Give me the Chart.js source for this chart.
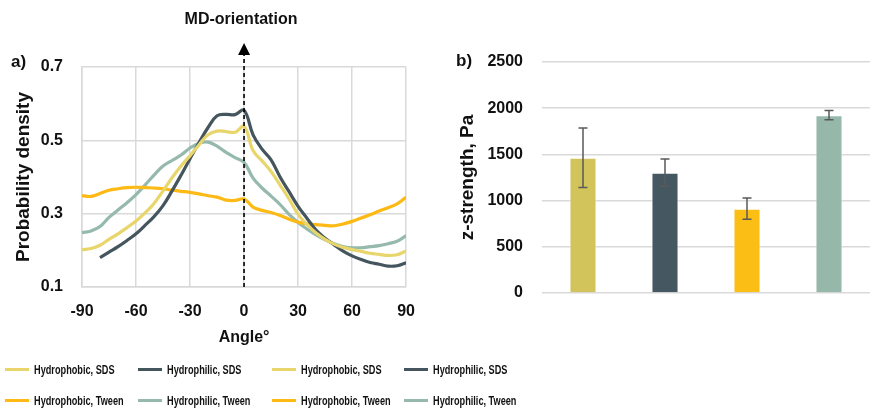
<!DOCTYPE html>
<html>
<head>
<meta charset="utf-8">
<script src="https://cdn.jsdelivr.net/npm/chart.js@4.4.1/dist/chart.umd.min.js"></script>
<style>
  body { margin: 0; width: 873px; height: 408px; background: #fff; position: relative; overflow: hidden;
         font-family: 'Liberation Sans', Arial, sans-serif; font-weight: bold; color: #111; }
  #cA { position: absolute; left: 0; top: 0; }
  #cB { position: absolute; left: 440px; top: 0; }
  .lbl { position: absolute; font-size: 17px; white-space: nowrap; }
  .leg { position: absolute; height: 20px; display: flex; align-items: center; white-space: nowrap; }
  .leg i { display: inline-block; width: 24px; height: 3px; margin-right: 5px; }
  .leg span { font-size: 13.5px; display: inline-block; transform: scaleX(0.68); transform-origin: left center; }
</style>
</head>
<body>
<canvas id="cA" width="430" height="360"></canvas>
<canvas id="cB" width="433" height="360"></canvas>
<div class="lbl" style="left:11px; top:52px;">a)</div>
<div class="lbl" style="left:456px; top:51px;">b)</div>
<div class="lbl" style="left:241px; top:10px; transform:translateX(-50%); font-size:16px;">MD-orientation</div>
<div id="legend"></div>
<script>
// angle distribution (a)
var angles = [-90, -85, -80, -75, -70, -65, -60, -55, -50, -45, -40, -35, -30, -25, -20, -15, -10, -5, 0,
              5, 10, 15, 20, 25, 30, 35, 40, 45, 50, 55, 60, 65, 70, 75, 80, 85, 90];
var phobicSDS = [0.202, 0.205, 0.214, 0.23, 0.245, 0.262, 0.28, 0.302, 0.328, 0.362, 0.398, 0.43, 0.458, 0.488, 0.515, 0.525, 0.524, 0.522, 0.538,
                 0.472, 0.444, 0.415, 0.378, 0.34, 0.298, 0.27, 0.247, 0.23, 0.217, 0.208, 0.202, 0.197, 0.192, 0.189, 0.186, 0.188, 0.198];
var philicSDS = [null, null, 0.18, 0.195, 0.21, 0.227, 0.245, 0.268, 0.292, 0.322, 0.362, 0.405, 0.45, 0.494, 0.535, 0.567, 0.571, 0.57, 0.582,
                 0.515, 0.476, 0.447, 0.40, 0.36, 0.32, 0.287, 0.255, 0.233, 0.215, 0.198, 0.185, 0.175, 0.167, 0.162, 0.157, 0.158, 0.166];
var phobicTween = [0.349, 0.347, 0.355, 0.364, 0.368, 0.371, 0.372, 0.371, 0.37, 0.368, 0.364, 0.361, 0.358, 0.354, 0.349, 0.345, 0.337, 0.336, 0.34,
                   0.318, 0.309, 0.303, 0.295, 0.285, 0.277, 0.272, 0.27, 0.268, 0.267, 0.272, 0.279, 0.288, 0.297, 0.307, 0.316, 0.327, 0.345];
var philicTween = [0.248, 0.253, 0.265, 0.29, 0.31, 0.33, 0.352, 0.378, 0.405, 0.43, 0.445, 0.46, 0.479, 0.492, 0.495, 0.484, 0.467, 0.453, 0.44,
                   0.397, 0.37, 0.348, 0.325, 0.298, 0.276, 0.258, 0.242, 0.229, 0.218, 0.21, 0.207, 0.207, 0.21, 0.213, 0.218, 0.225, 0.24];

// z-strength (b)
var groups = ['Hydrophobic, SDS', 'Hydrophilic, SDS', 'Hydrophobic, Tween', 'Hydrophilic, Tween'];
var strength = [1463, 1302, 913, 1924];
var strengthErr = [322, 147, 116, 50];

var seriesNames = ['Hydrophobic, SDS', 'Hydrophilic, SDS', 'Hydrophobic, Tween', 'Hydrophilic, Tween'];
var lineColors = ['#E8D66C', '#44555E', '#FDB914', '#95B9AC'];
var barColors = ['#D3C35B', '#455760', '#FBBE14', '#95B8AB'];

var gridColor = '#D9D9D9';
var textColor = '#111';
Chart.defaults.font.family = "'Liberation Sans', Arial, sans-serif";
Chart.defaults.font.weight = 'bold';
Chart.defaults.color = textColor;

var arrowPlugin = {
    id: 'mdArrow',
    afterDatasetsDraw: function (chart) {
        var ctx = chart.ctx, x = chart.scales.x.getPixelForValue(0);
        var bottom = chart.chartArea.bottom;
        ctx.save();
        ctx.strokeStyle = '#000';
        ctx.lineWidth = 1.6;
        ctx.setLineDash([4, 3]);
        ctx.beginPath();
        ctx.moveTo(x, bottom);
        ctx.lineTo(x, 54);
        ctx.stroke();
        ctx.setLineDash([]);
        ctx.fillStyle = '#000';
        ctx.beginPath();
        ctx.moveTo(x, 43);
        ctx.lineTo(x - 6, 55);
        ctx.lineTo(x + 6, 55);
        ctx.closePath();
        ctx.fill();
        ctx.restore();
    }
};

var errorPlugin = {
    id: 'errBars',
    afterDatasetsDraw: function (chart) {
        var ctx = chart.ctx, yScale = chart.scales.y;
        var meta = chart.getDatasetMeta(0);
        ctx.save();
        ctx.strokeStyle = '#595959';
        ctx.lineWidth = 1.5;
        meta.data.forEach(function (bar, i) {
            var top = yScale.getPixelForValue(strength[i] + strengthErr[i]);
            var bot = yScale.getPixelForValue(strength[i] - strengthErr[i]);
            ctx.beginPath();
            ctx.moveTo(bar.x, top); ctx.lineTo(bar.x, bot);
            ctx.moveTo(bar.x - 4.5, top); ctx.lineTo(bar.x + 4.5, top);
            ctx.moveTo(bar.x - 4.5, bot); ctx.lineTo(bar.x + 4.5, bot);
            ctx.stroke();
        });
        ctx.restore();
    }
};

function lineSet(label, data, color) {
    return {
        label: label,
        data: data.map(function (v, i) { return {x: angles[i], y: v}; }),
        borderColor: color, backgroundColor: color,
        borderWidth: 3.2, pointRadius: 0, tension: 0.4, fill: false
    };
}

new Chart(document.getElementById('cA').getContext('2d'), {
    type: 'line',
    data: {
        datasets: [
            lineSet(seriesNames[0], phobicSDS, lineColors[0]),
            lineSet(seriesNames[1], philicSDS, lineColors[1]),
            lineSet(seriesNames[2], phobicTween, lineColors[2]),
            lineSet(seriesNames[3], philicTween, lineColors[3])
        ]
    },
    options: {
        responsive: false,
        animation: false,
        layout: {padding: {top: 67, right: 22, left: 0, bottom: 0}},
        plugins: {legend: {display: false}, tooltip: {enabled: false}},
        scales: {
            x: {
                type: 'linear', min: -90, max: 90,
                afterFit: function (s) { s.height = 73; },
                ticks: {stepSize: 30, padding: 15, font: {size: 16, weight: 'bold'}, color: textColor},
                grid: {color: gridColor, lineWidth: 1.5, drawTicks: false},
                border: {color: gridColor, width: 1.5},
                title: {display: true, text: 'Angle°', font: {size: 16, weight: 'bold'}, color: textColor,
                        padding: {top: 0, bottom: 13}}
            },
            y: {
                min: 0.1, max: 0.7,
                afterFit: function (s) { s.width = 82; },
                ticks: {stepSize: 0.2, padding: 19, font: {size: 16, weight: 'bold'}, color: textColor,
                        callback: function (v) { return v.toFixed(1); }},
                grid: {color: gridColor, lineWidth: 1.5, drawTicks: false},
                border: {color: gridColor, width: 1.5},
                title: {display: true, text: 'Probability density', font: {size: 19, weight: 'bold'}, color: textColor,
                        padding: {top: 12, bottom: 0}}
            }
        }
    },
    plugins: [arrowPlugin]
});

new Chart(document.getElementById('cB').getContext('2d'), {
    type: 'bar',
    data: {
        labels: groups,
        datasets: [{
            data: strength,
            backgroundColor: barColors,
            borderColor: 'rgba(255,255,255,0.6)',
            borderWidth: 1,
            categoryPercentage: 1,
            barPercentage: 0.33
        }]
    },
    options: {
        responsive: false,
        animation: false,
        layout: {padding: {top: 62, right: 3, left: 0, bottom: 0}},
        plugins: {legend: {display: false}, tooltip: {enabled: false}},
        scales: {
            x: {
                afterFit: function (s) { s.height = 67; },
                ticks: {display: false},
                grid: {display: false},
                border: {display: false}
            },
            y: {
                min: 0, max: 2500,
                afterFit: function (s) { s.width = 102; },
                ticks: {stepSize: 500, padding: 19, font: {size: 16, weight: 'bold'}, color: textColor,
                        callback: function (v) { return String(v); }},
                grid: {color: gridColor, lineWidth: 1.5, drawTicks: false},
                border: {display: false},
                title: {display: true, text: 'z-strength, Pa', font: {size: 19, weight: 'bold'}, color: textColor,
                        padding: {top: 16, bottom: 0}}
            }
        }
    },
    plugins: [errorPlugin]
});

// legends under both panels
var legendCols = [5, 138, 272, 404];
var legendRows = [359, 390];
var legendEl = document.getElementById('legend');
[0, 1].forEach(function (panel) {
    seriesNames.forEach(function (name, i) {
        var col = panel * 2 + (i % 2);
        var row = Math.floor(i / 2);
        var div = document.createElement('div');
        div.className = 'leg';
        div.style.left = legendCols[col] + 'px';
        div.style.top = legendRows[row] + 'px';
        div.innerHTML = '<i style="background:' + lineColors[i] + '"></i><span>' + name + '</span>';
        legendEl.appendChild(div);
    });
});
</script>
</body>
</html>
